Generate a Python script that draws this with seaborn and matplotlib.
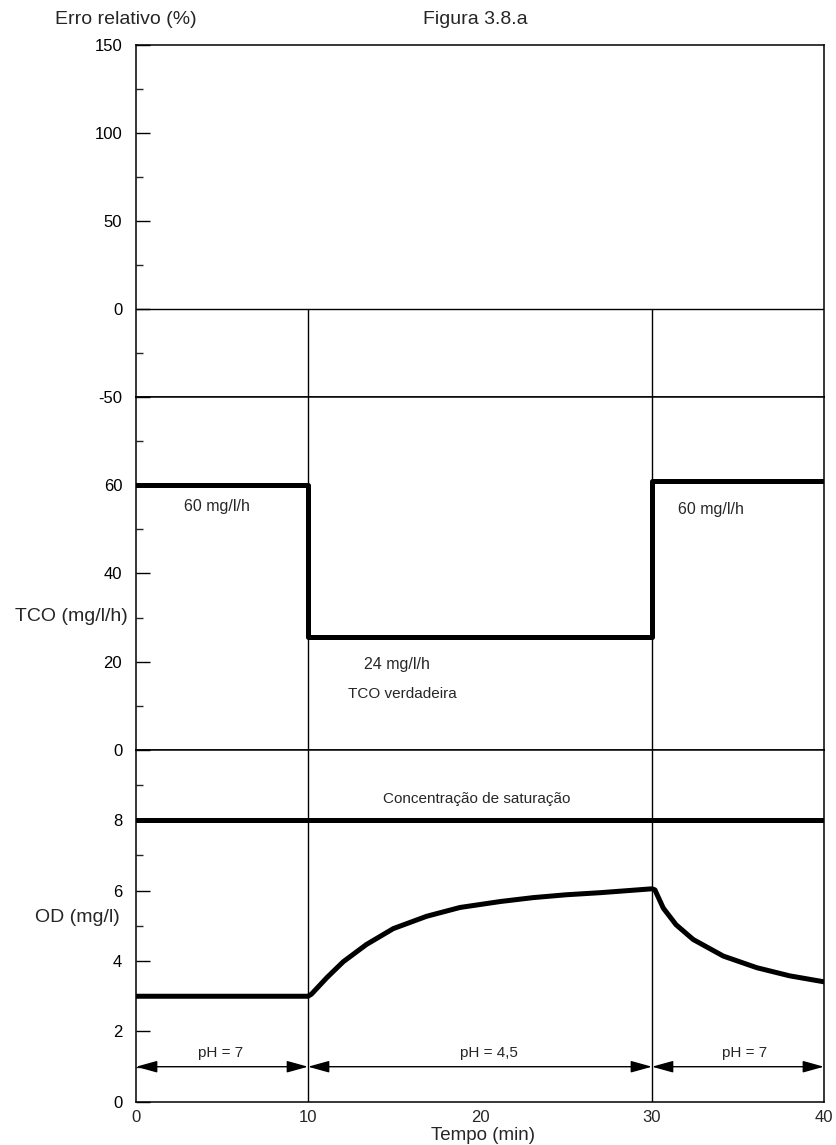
import numpy as np
import pandas as pd
import matplotlib
matplotlib.use("Agg")
import matplotlib.pyplot as plt
import seaborn as sns

# time axis (min)
x_ticks = [0, 10, 20, 30, 40]
phase_bounds = [0, 10, 30, 40]
ph_labels = ["pH = 7", "pH = 4,5", "pH = 7"]
ph_label_x = [4.9, 20.5, 35.4]

# TCO (mg/l/h), step function
tco_time = [0, 10, 30, 40]
tco_value = [60, 25.5, 61, 61]

# OD (mg/l)
od_time = [0, 10, 10.2, 11.1, 12.05, 13.4, 14.96, 16.9, 18.84, 21.2, 23.1, 25.0, 27.0, 30,
           30.17, 30.66, 31.4, 32.4, 34.15, 36.1, 38.0, 40]
od_value = [3.0, 3.0, 3.06, 3.53, 3.98, 4.47, 4.92, 5.27, 5.52, 5.69, 5.80, 5.88, 5.94, 6.05,
            6.02, 5.50, 5.03, 4.61, 4.14, 3.81, 3.58, 3.41]

# saturation concentration
sat_time = [0, 40]
sat_value = [8, 8]

# y ticks for the three panels
err_ticks = [150, 100, 50, 0, -50]
tco_ticks = [80, 60, 40, 20, 0]
tco_labels = ["", "60", "40", "20", "0"]
od_ticks = [10, 8, 6, 4, 2, 0]
od_labels = ["", "8", "6", "4", "2", "0"]

sns.set_style("white")
plt.rcParams["font.family"] = ["Liberation Sans", "DejaVu Sans"]
plt.rcParams["axes.unicode_minus"] = False

fig, (ax_err, ax_tco, ax_od) = plt.subplots(3, 1, figsize=(8.36, 11.45), dpi=100, sharex=True)
fig.subplots_adjust(left=0.1627, right=0.9856, top=0.9607, bottom=0.0376, hspace=0)

thick = 3.6
thin = 1.0

# top panel: relative error
ax_err.set_ylim(-50, 150)
ax_err.set_yticks(err_ticks)
ax_err.set_yticks([125, 75, 25, -25], minor=True)
ax_err.axhline(0, color="black", lw=thin)
for xv in [10, 30]:
    ax_err.plot([xv, xv], [-50, 0], color="black", lw=thin)

# middle panel: TCO
df_tco = pd.DataFrame({"t": tco_time, "v": tco_value})
sns.lineplot(data=df_tco, x="t", y="v", ax=ax_tco, color="black", lw=thick,
             drawstyle="steps-post", estimator=None, sort=False)
ax_tco.set_ylim(0, 80)
ax_tco.set_yticks(tco_ticks)
ax_tco.set_yticklabels(tco_labels)
ax_tco.set_yticks([70, 50, 30, 10], minor=True)
for xv in [10, 30]:
    ax_tco.axvline(xv, color="black", lw=thin)
ax_tco.text(4.7, 55.2, "60 mg/l/h", ha="center", va="center", fontsize=11.5)
ax_tco.text(33.4, 54.5, "60 mg/l/h", ha="center", va="center", fontsize=11.5)
ax_tco.text(15.2, 19.3, "24 mg/l/h", ha="center", va="center", fontsize=11.5)
ax_tco.text(15.5, 12.6, "TCO verdadeira", ha="center", va="center", fontsize=11)

# bottom panel: OD
df_od = pd.DataFrame({"t": od_time, "v": od_value})
sns.lineplot(data=df_od, x="t", y="v", ax=ax_od, color="black", lw=thick,
             estimator=None, sort=False, solid_joinstyle="round")
df_sat = pd.DataFrame({"t": sat_time, "v": sat_value})
sns.lineplot(data=df_sat, x="t", y="v", ax=ax_od, color="black", lw=thick,
             estimator=None, sort=False)
ax_od.set_ylim(0, 10)
ax_od.set_yticks(od_ticks)
ax_od.set_yticklabels(od_labels)
ax_od.set_yticks([9, 7, 5, 3, 1], minor=True)
for xv in [10, 30]:
    ax_od.axvline(xv, color="black", lw=thin)
ax_od.text(19.8, 8.6, "Concentração de saturação", ha="center", va="center", fontsize=11)

# pH phase arrows
for a, b, lab, lx in zip(phase_bounds[:-1], phase_bounds[1:], ph_labels, ph_label_x):
    ax_od.annotate("", xy=(b, 1), xytext=(a, 1),
                   arrowprops=dict(arrowstyle="<|-|>,head_length=1.3,head_width=0.36",
                                   color="black", lw=thin, shrinkA=0, shrinkB=0,
                                   mutation_scale=10))
    ax_od.text(lx, 1.4, lab, ha="center", va="center", fontsize=11)

ax_od.set_xlim(0, 40)
ax_od.set_xticks(x_ticks)
ax_od.set_xlabel("")

for ax in (ax_err, ax_tco, ax_od):
    ax.set_ylabel("")
    for sp in ax.spines.values():
        sp.set_visible(True)
        sp.set_color("black")
        sp.set_linewidth(1.1)
    ax.tick_params(axis="y", which="major", direction="in", length=10, width=1,
                   labelsize=12, pad=10, left=True, colors="black")
    ax.tick_params(axis="y", which="minor", direction="in", length=5, width=1, left=True)
    ax.tick_params(axis="x", which="both", length=0, labelsize=12, pad=6)

fig.text(126 / 836, 1 - 20 / 1145, "Erro relativo (%)", ha="center", va="center", fontsize=14)
fig.text(475 / 836, 1 - 20 / 1145, "Figura 3.8.a", ha="center", va="center", fontsize=14)
fig.text(71 / 836, 1 - 617 / 1145, "TCO (mg/l/h)", ha="center", va="center", fontsize=14)
fig.text(77 / 836, 1 - 918 / 1145, "OD (mg/l)", ha="center", va="center", fontsize=14)
fig.text(483 / 836, 1 - 1135 / 1145, "Tempo (min)", ha="center", va="center", fontsize=13.5)

fig.savefig("out.png", dpi=100)
